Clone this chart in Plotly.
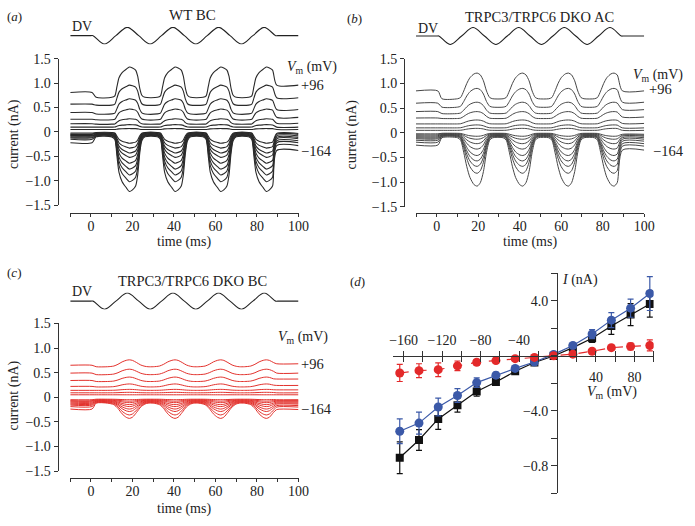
import plotly.graph_objects as go

W, H = 695, 526

# ---------------- data ----------------
TIME_RANGE = [-10, 100]
CYCLE_STARTS = [0, 22, 44, 66]

# DV stimulus (normalised displacement) at its zero crossings and extremes
DV_T = [-10, 0, 1, 6.5, 12, 17.5, 23, 28.5, 34, 39.5, 45, 50.5, 56, 61.5, 67, 72.5, 78, 83.5, 89, 90, 100]
DV_V = [0, 0, 0, -1, 0, 1, 0, -1, 0, 1, 0, -1, 0, 1, 0, -1, 0, 1, 0, 0, 0]

# open-fraction profile of one stimulus cycle (time from cycle start, fraction)
PROF_A_T = [10, 11.5, 12.5, 13.5, 15, 17, 18.5, 20, 21.5, 22.5, 23.5, 24.5, 26]
PROF_A_P = [0, 0.05, 0.35, 0.65, 0.82, 0.93, 1.0, 0.97, 0.9, 0.7, 0.3, 0.07, 0]
PROF_B_T = [10, 11.5, 13, 14.5, 16, 18, 19.5, 21, 22.5, 24, 25.5, 27]
PROF_B_P = [0, 0.05, 0.3, 0.6, 0.82, 0.97, 1.0, 0.93, 0.7, 0.3, 0.05, 0]
PROF_C_T = [8, 11, 13, 15, 17, 18.5, 20, 22, 24, 26, 27.5]
PROF_C_P = [0, 0.1, 0.35, 0.7, 0.93, 1.0, 0.92, 0.6, 0.25, 0.06, 0]

# current levels (nA) of each trace, top (+96 mV) to bottom (-164 mV)
A_REST = [0.81, 0.57, 0.40, 0.26, 0.17, 0.10, 0.05, -0.02, -0.04, -0.05, -0.07, -0.08, -0.10, -0.12, -0.15, -0.22]
A_CLOSED = [0.71, 0.55, 0.37, 0.25, 0.16, 0.10, 0.05, -0.01, -0.02, -0.03, -0.04, -0.05, -0.06, -0.07, -0.08, -0.10]
A_PEAK = [1.33, 0.96, 0.68, 0.47, 0.27, 0.15, 0.07, -0.23, -0.33, -0.43, -0.52, -0.64, -0.76, -0.88, -1.02, -1.22]
A_END = [0.96, 0.70, 0.46, 0.30, 0.18, 0.10, 0.05, -0.03, -0.05, -0.08, -0.11, -0.14, -0.18, -0.22, -0.28, -0.38]

B_REST = [0.85, 0.60, 0.43, 0.30, 0.18, 0.10, 0.05, -0.02, -0.04, -0.06, -0.08, -0.10, -0.12, -0.15, -0.19, -0.25]
B_CLOSED = [0.69, 0.52, 0.39, 0.29, 0.18, 0.10, 0.05, -0.01, -0.02, -0.03, -0.04, -0.05, -0.06, -0.07, -0.08, -0.10]
B_PEAK = [1.21, 0.90, 0.62, 0.43, 0.26, 0.16, 0.09, -0.07, -0.13, -0.22, -0.33, -0.46, -0.57, -0.68, -0.82, -1.08]
B_END = [0.85, 0.62, 0.47, 0.32, 0.19, 0.10, 0.05, -0.03, -0.05, -0.07, -0.10, -0.13, -0.17, -0.22, -0.27, -0.35]

C_REST = [0.65, 0.49, 0.34, 0.22, 0.14, 0.09, 0.05, -0.05, -0.07, -0.08, -0.10, -0.12, -0.14, -0.16, -0.19, -0.24]
C_CLOSED = [0.62, 0.46, 0.32, 0.21, 0.14, 0.09, 0.05, -0.04, -0.05, -0.06, -0.07, -0.08, -0.09, -0.10, -0.11, -0.12]
C_PEAK = [0.76, 0.57, 0.41, 0.27, 0.16, 0.10, 0.05, -0.05, -0.08, -0.11, -0.15, -0.19, -0.24, -0.29, -0.36, -0.43]
C_END = [0.68, 0.49, 0.37, 0.24, 0.15, 0.09, 0.05, -0.05, -0.07, -0.08, -0.10, -0.12, -0.14, -0.17, -0.20, -0.25]

# I-V relation (panel d)
IV_V = [-164, -144, -124, -104, -84, -64, -44, -24, -4, 16, 36, 56, 76, 96]
IV_WT_BC = [-7.41, -6.12, -4.59, -3.60, -2.59, -1.91, -1.13, -0.49, -0.02, 0.59, 1.27, 2.16, 2.99, 3.76]
IV_WT_BC_ERR = [1.15, 0.75, 0.75, 0.5, 0.35, 0.15, 0.1, 0.1, 0.05, 0.15, 0.3, 0.6, 0.8, 0.95]
IV_DKO_AC = [-5.48, -4.89, -3.72, -2.89, -1.95, -1.41, -0.92, -0.45, 0.10, 0.75, 1.58, 2.59, 3.46, 4.52]
IV_DKO_AC_ERR = [0.9, 0.8, 0.65, 0.5, 0.35, 0.2, 0.15, 0.1, 0.05, 0.15, 0.33, 0.55, 0.66, 1.23]
IV_DKO_BC = [-1.25, -1.08, -1.01, -0.73, -0.47, -0.35, -0.21, -0.12, 0.0, 0.12, 0.33, 0.59, 0.68, 0.75]
IV_DKO_BC_ERR = [0.62, 0.5, 0.5, 0.35, 0.2, 0.15, 0.1, 0.1, 0.05, 0.1, 0.1, 0.15, 0.25, 0.4]

Y_TICKS = [-1.5, -1.0, -0.5, 0, 0.5, 1.0, 1.5]
Y_TICKTEXT = ["\u22121.5", "\u22121.0", "\u22120.5", "0", "0.5", "1.0", "1.5"]
T_TICKS = [0, 20, 40, 60, 80, 100]
T_MINOR = [-10, 10, 30, 50, 70, 90]

D_XT_TOP = [-160, -120, -80, -40]
D_XT_TOP_TEXT = ["\u2212160", "\u2212120", "\u221280", "\u221240"]
D_XT_BOT = [40, 80]
D_XT_BOT_TEXT = ["40", "80"]
D_XT_MINOR = [-140, -100, -60, -20, 0, 20, 60, 100]
D_YT = [-8, -4, 4]
D_YT_TEXT = ["\u22120.8", "\u22124.0", "4.0"]
D_YT_MINOR = [-10, -6, -2, 0, 2, 6]

FONT = "Liberation Serif, Times New Roman, serif"
AXC = "#333333"


def px(x):
    return x / W


def py(y):
    return 1 - y / H


def build_trace(rest, closed, peak, end, prof_t, prof_p):
    ts = [-10, 0.5, 2.5]
    ys = [rest, rest, closed]
    for c in CYCLE_STARTS:
        for rt, p in zip(prof_t, prof_p):
            t = c + rt
            if c == CYCLE_STARTS[-1] and rt > 22:
                break
            ts.append(t)
            ys.append(closed + (peak - closed) * p)
    ts += [89.5, 100]
    ys += [end, end]
    return ts, ys


fig = go.Figure()

panels = [
    (A_REST, A_CLOSED, A_PEAK, A_END, PROF_A_T, PROF_A_P, "x", "y", "x2", "y2", "#2a2a2a", 1.1),
    (B_REST, B_CLOSED, B_PEAK, B_END, PROF_B_T, PROF_B_P, "x3", "y3", "x4", "y4", "#464646", 1.0),
    (C_REST, C_CLOSED, C_PEAK, C_END, PROF_C_T, PROF_C_P, "x5", "y5", "x6", "y6", "#e2312c", 1.0),
]

for rest, closed, peak, end, pt, pp, xa, ya, xd, yd, col, lw in panels:
    for r, c, p, e in zip(rest, closed, peak, end):
        ts, ys = build_trace(r, c, p, e, pt, pp)
        fig.add_trace(go.Scatter(x=ts, y=ys, mode="lines", xaxis=xa, yaxis=ya,
                                 line=dict(color=col, width=lw, shape="spline", smoothing=0.7),
                                 hoverinfo="skip"))
    fig.add_trace(go.Scatter(x=DV_T, y=DV_V, mode="lines", xaxis=xd, yaxis=yd,
                             line=dict(color="#222222", width=1.1, shape="spline", smoothing=1.0),
                             hoverinfo="skip"))

BLACK = "#111111"
BLUE = "#3b59a8"
RED = "#e3292a"
fig.add_trace(go.Scatter(x=IV_V, y=IV_WT_BC, mode="lines+markers", xaxis="x7", yaxis="y7",
                         line=dict(color=BLACK, width=1.2),
                         marker=dict(symbol="square", size=8, color=BLACK),
                         error_y=dict(type="data", array=IV_WT_BC_ERR, color=BLACK, thickness=1.2, width=3)))
fig.add_trace(go.Scatter(x=IV_V, y=IV_DKO_AC, mode="lines+markers", xaxis="x7", yaxis="y7",
                         line=dict(color=BLUE, width=1.2),
                         marker=dict(symbol="circle", size=9, color=BLUE),
                         error_y=dict(type="data", array=IV_DKO_AC_ERR, color=BLUE, thickness=1.2, width=3)))
fig.add_trace(go.Scatter(x=IV_V, y=IV_DKO_BC, mode="lines+markers", xaxis="x8", yaxis="y7",
                         line=dict(color=RED, width=1.2, dash="dash"),
                         marker=dict(symbol="circle", size=9, color=RED),
                         error_y=dict(type="data", array=IV_DKO_BC_ERR, color=RED, thickness=1.2, width=3)))

tickfont = dict(family=FONT, size=14, color="#222222")


def trace_axes(xdom, ydom, ypos, xpos):
    xa = dict(domain=xdom, range=TIME_RANGE, anchor="free", position=xpos,
              showline=True, linecolor=AXC, linewidth=1.3, ticks="outside", ticklen=3,
              tickcolor=AXC, tickwidth=1.2, tickmode="array", tickvals=T_TICKS,
              minor=dict(tickmode="array", tickvals=T_MINOR, ticks="outside", ticklen=3, tickcolor=AXC),
              showgrid=False, zeroline=False, tickfont=tickfont, ticklabelstandoff=-3)
    ya = dict(domain=ydom, range=[-1.5, 1.5], anchor="free", position=ypos,
              showline=True, linecolor=AXC, linewidth=1.3, ticks="outside", ticklen=4,
              tickcolor=AXC, tickwidth=1.2, tickmode="array", tickvals=Y_TICKS, ticktext=Y_TICKTEXT,
              showgrid=False, zeroline=False, tickfont=tickfont)
    return xa, ya


def dv_axes(xdom, ydom):
    xa = dict(domain=xdom, range=TIME_RANGE, visible=False, anchor="free", position=0)
    ya = dict(domain=ydom, range=[-1.05, 1.05], visible=False, anchor="free", position=0)
    return xa, ya


xa, ya = trace_axes([px(67.7), px(301)], [py(204), py(53.3)], px(55), py(211.7))
xd, yd = dv_axes([px(67.7), px(301)], [py(38.5), py(20.5)])
xb, yb = trace_axes([px(421.1), px(654.3)], [py(205.7), py(53.3)], px(409), py(212))
xbd, ybd = dv_axes([px(421.1), px(654.3)], [py(39), py(20.7)])
xc, yc = trace_axes([px(67.7), px(301)], [py(477.7), py(325.7)], px(55), py(485))
xcd, ycd = dv_axes([px(67.7), px(301)], [py(311.5), py(294)])

d_xdom = [px(397.6), px(664)]
d_ydom = [py(500.7), py(274)]
x7 = dict(domain=d_xdom, range=[-171, 100], anchor="free", position=py(359.2), side="top",
          showline=True, linecolor=AXC, linewidth=1.3, ticks="outside", ticklen=5, tickcolor=AXC,
          tickwidth=1.2, tickmode="array", tickvals=D_XT_TOP, ticktext=D_XT_TOP_TEXT,
          minor=dict(tickmode="array", tickvals=D_XT_MINOR + D_XT_BOT, ticks="outside", ticklen=5,
                     tickcolor=AXC, tickwidth=1.2),
          showgrid=False, zeroline=False, tickfont=tickfont)
x8 = dict(domain=d_xdom, range=[-171, 100], anchor="free", position=py(359.2), side="bottom",
          overlaying="x7", showline=False, ticks="outside", ticklen=5, tickcolor=AXC, tickwidth=1.2,
          tickmode="array", tickvals=D_XT_BOT, ticktext=D_XT_BOT_TEXT,
          minor=dict(tickmode="array", tickvals=D_XT_MINOR + D_XT_TOP, ticks="outside", ticklen=5,
                     tickcolor=AXC, tickwidth=1.2),
          showgrid=False, zeroline=False, tickfont=tickfont, ticklabelstandoff=3)
y7 = dict(domain=d_ydom, range=[-10, 6], anchor="free", position=px(565.5), side="left",
          showline=True, linecolor=AXC, linewidth=1.3, ticks="outside", ticklen=6, tickcolor=AXC,
          tickwidth=1.2, tickmode="array", tickvals=D_YT, ticktext=D_YT_TEXT,
          minor=dict(tickmode="array", tickvals=D_YT_MINOR, ticks="outside", ticklen=6,
                     tickcolor=AXC, tickwidth=1.2),
          showgrid=False, zeroline=False, tickfont=tickfont)

fig.update_layout(
    width=W, height=H, margin=dict(l=0, r=0, t=0, b=0),
    paper_bgcolor="white", plot_bgcolor="rgba(0,0,0,0)", showlegend=False,
    font=dict(family=FONT, size=14, color="#222222"),
    xaxis=xa, yaxis=ya, xaxis2=xd, yaxis2=yd,
    xaxis3=xb, yaxis3=yb, xaxis4=xbd, yaxis4=ybd,
    xaxis5=xc, yaxis5=yc, xaxis6=xcd, yaxis6=ycd,
    xaxis7=x7, xaxis8=x8, yaxis7=y7,
)

ann = []


def text(x, y, s, size=14, anchor="center", angle=0):
    ann.append(dict(x=px(x), y=py(y), xref="paper", yref="paper", text=s, showarrow=False,
                    xanchor=anchor, yanchor="middle", textangle=angle,
                    font=dict(family=FONT, size=size, color="#222222")))


VM = "<i>V</i><sub>m</sub> (mV)"
text(1, 10, "(<i>a</i>)", 13, "left")
text(349, 12, "(<i>b</i>)", 13, "left")
text(1, 273, "(<i>c</i>)", 13, "left")
text(352, 283, "(<i>d</i>)", 13, "left")
text(193, 8, "WT BC", 15)
text(547, 10, "TRPC3/TRPC6 DKO AC", 14.5)
text(193, 282, "TRPC3/TRPC6 DKO BC", 14.5)
text(67, 20, "DV", 14, "left")
text(421, 22, "DV", 14, "left")
text(67, 293, "DV", 14, "left")
text(287, 62, VM, 14, "left")
text(302, 80, "+96", 14.5, "left")
text(302, 148, "\u2212164", 14.5, "left")
text(641, 70, VM, 14, "left")
text(657, 84, "+96", 14.5, "left")
text(661, 148, "\u2212164", 14.5, "left")
text(278, 340, VM, 14, "left")
text(301, 367, "+96", 14.5, "left")
text(301, 414, "\u2212164", 14.5, "left")
text(10, 131, "current (nA)", 14, angle=-90)
text(356, 131, "current (nA)", 14, angle=-90)
text(10, 400, "current (nA)", 14, angle=-90)
text(184, 242, "time (ms)", 14)
text(538, 242, "time (ms)", 14)
text(184, 517, "time (ms)", 14)
text(568, 281, "<i>I</i> (nA)", 14, "left")
text(594, 397, VM, 14, "left")

fig.update_layout(annotations=ann)
fig.write_html("out.html", config={"displayModeBar": False},
               post_script="document.body.style.margin='0px';document.body.style.overflow='hidden';")
